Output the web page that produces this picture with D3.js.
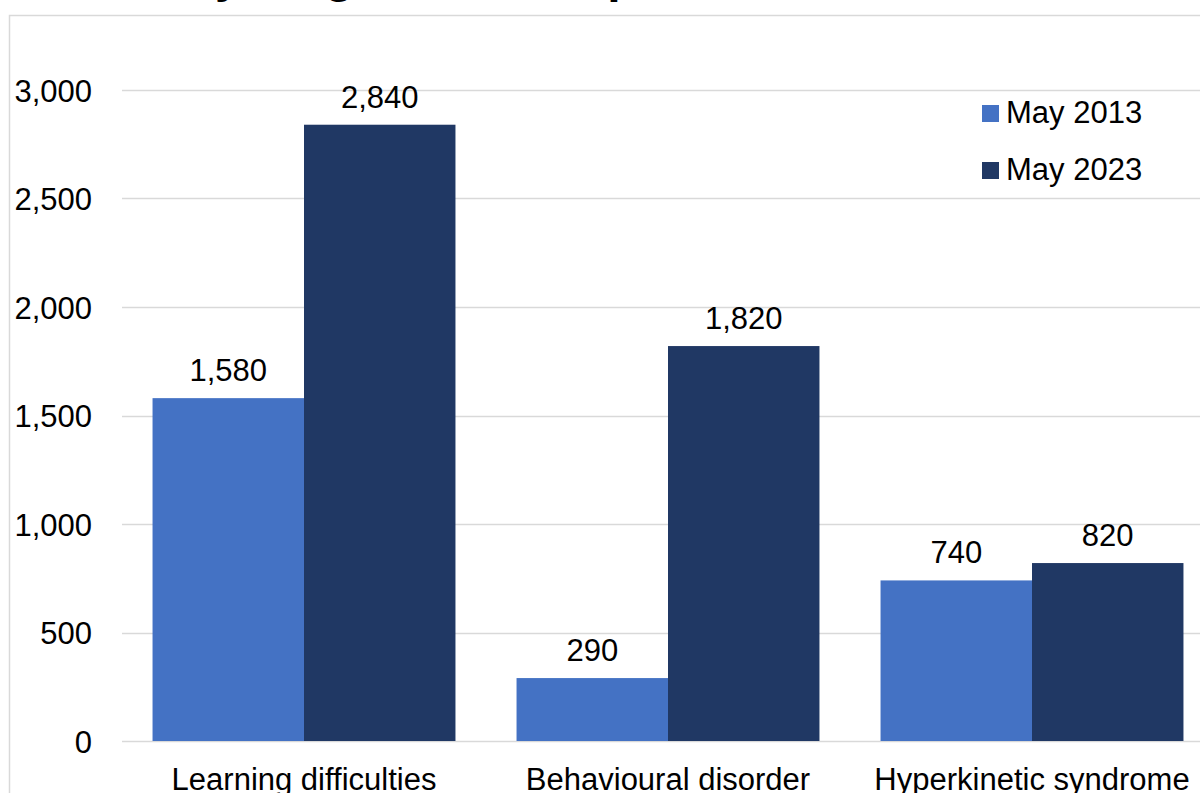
<!DOCTYPE html>
<html>
<head>
<meta charset="utf-8">
<script src="https://cdn.jsdelivr.net/npm/d3@7"></script>
<style>
  html, body { margin: 0; padding: 0; background: #fff; overflow: hidden; }
  svg { display: block; font-family: "Liberation Sans", Arial, sans-serif; }
</style>
</head>
<body>
<svg id="chart" width="1200" height="793"></svg>
<script>
// Diagnosis categories and counts for the two snapshots
const categories = ["Learning difficulties", "Behavioural disorder", "Hyperkinetic syndrome"];
const seriesNames = ["May 2013", "May 2023"];
const may2013 = [1580, 290, 740];
const may2023 = [2840, 1820, 820];
const yTicks = [0, 500, 1000, 1500, 2000, 2500, 3000];
const colors = ["#4472C4", "#203864"];

const svg = d3.select("#chart");
const fmt = d3.format(",");

// Frame around the chart area
svg.append("rect")
  .attr("x", 9.5).attr("y", 15.5)
  .attr("width", 1300).attr("height", 900)
  .attr("fill", "none")
  .attr("stroke", "#d9d9d9")
  .attr("stroke-width", 1.5);

// Title, sitting above the top edge
svg.append("text")
  .attr("x", 31).attr("y", -8)
  .attr("font-size", 48).attr("font-weight", "bold")
  .text("Cases by diagnosis: comparison");

const plot = { left: 122, right: 1214, top: 90, bottom: 741 };

const x0 = d3.scaleBand()
  .domain(categories)
  .range([plot.left, plot.right])
  .paddingInner(0.1678)
  .paddingOuter(0.0839);

const x1 = d3.scaleBand()
  .domain(seriesNames)
  .range([0, x0.bandwidth()]);

const y = d3.scaleLinear()
  .domain([0, 3000])
  .range([plot.bottom, plot.top]);

// Gridlines
svg.append("g")
  .selectAll("line")
  .data(yTicks)
  .join("line")
  .attr("x1", plot.left).attr("x2", plot.right)
  .attr("y1", d => Math.round(y(d)) + 0.5)
  .attr("y2", d => Math.round(y(d)) + 0.5)
  .attr("stroke", "#d9d9d9")
  .attr("stroke-width", 1.5);

// Y axis labels
const yAxis = d3.axisLeft(y).tickValues(yTicks).tickFormat(fmt).tickSize(0).tickPadding(0);
const yg = svg.append("g").attr("transform", "translate(92,0)").call(yAxis);
yg.select(".domain").remove();
yg.selectAll("text")
  .attr("font-size", 31)
  .attr("font-family", "'Liberation Sans', Arial, sans-serif")
  .attr("fill", "#000")
  .attr("dy", "0.36em");

// Bars
const rows = categories.map((c, i) => ({ category: c, values: [may2013[i], may2023[i]] }));

const groups = svg.append("g")
  .selectAll("g")
  .data(rows)
  .join("g")
  .attr("transform", d => `translate(${x0(d.category)},0)`);

groups.selectAll("rect")
  .data(d => d.values.map((v, j) => ({ name: seriesNames[j], value: v, j })))
  .join("rect")
  .attr("x", d => x1(d.name))
  .attr("width", x1.bandwidth())
  .attr("y", d => y(d.value))
  .attr("height", d => y(0) - y(d.value))
  .attr("fill", d => colors[d.j]);

// Value labels
groups.selectAll("text.val")
  .data(d => d.values.map((v, j) => ({ name: seriesNames[j], value: v })))
  .join("text")
  .attr("class", "val")
  .attr("x", d => x1(d.name) + x1.bandwidth() / 2)
  .attr("y", d => y(d.value) - 17)
  .attr("text-anchor", "middle")
  .attr("font-size", 31)
  .attr("fill", "#000")
  .text(d => fmt(d.value));

// Category labels
const xAxis = d3.axisBottom(x0).tickSize(0).tickPadding(0);
const xg = svg.append("g").attr("transform", `translate(0,${plot.bottom})`).call(xAxis);
xg.select(".domain").remove();
xg.selectAll("text")
  .attr("font-size", 31)
  .attr("font-family", "'Liberation Sans', Arial, sans-serif")
  .attr("fill", "#000")
  .attr("dy", 0)
  .attr("y", 49);

// Legend
const legend = svg.append("g").attr("transform", "translate(982,105)");
const items = legend.selectAll("g")
  .data(seriesNames)
  .join("g")
  .attr("transform", (d, i) => `translate(0,${i * 57})`);
items.append("rect")
  .attr("width", 17).attr("height", 17)
  .attr("fill", (d, i) => colors[i]);
items.append("text")
  .attr("x", 24).attr("y", 18)
  .attr("font-size", 31)
  .attr("fill", "#000")
  .text(d => d);
</script>
</body>
</html>
